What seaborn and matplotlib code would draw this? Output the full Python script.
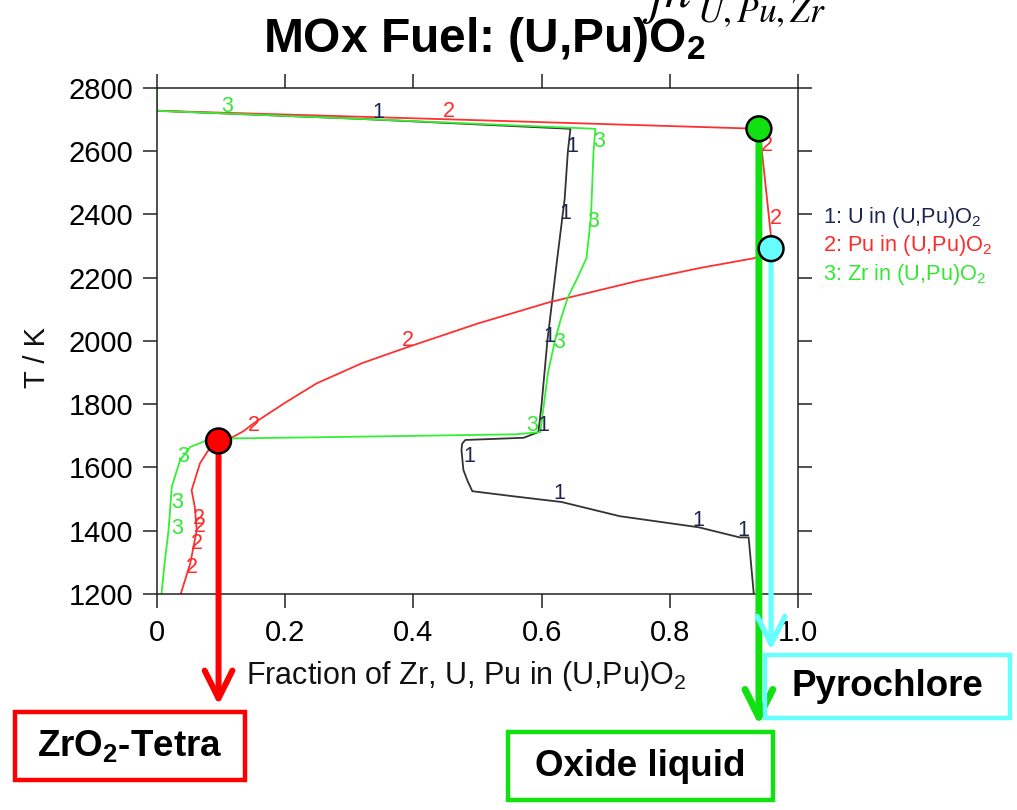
import matplotlib
matplotlib.use("Agg")
import matplotlib.pyplot as plt
from matplotlib.patches import Rectangle
import seaborn as sns
import pandas as pd

# ---------------- data ----------------
u_x = [0.000, 0.310, 0.645, 0.641, 0.636, 0.624, 0.609, 0.600, 0.595, 0.572, 0.520, 0.481,
       0.476, 0.475, 0.478, 0.485, 0.492, 0.560, 0.631, 0.722, 0.845, 0.909, 0.923, 0.930, 0.931]
u_T = [2728, 2703, 2671, 2600, 2450, 2254, 2000, 1800, 1712, 1694, 1690, 1687,
       1675, 1655, 1592, 1555, 1525, 1508, 1491, 1446, 1411, 1379, 1379, 1223, 1200]

pu_x = [0.037, 0.052, 0.062, 0.059, 0.054, 0.067, 0.085, 0.096, 0.119, 0.135, 0.151, 0.200,
        0.249, 0.320, 0.390, 0.500, 0.611, 0.750, 0.850, 0.932, 0.958, 0.958, 0.940, 0.470, 0.000]
pu_T = [1200, 1298, 1402, 1475, 1528, 1613, 1670, 1684, 1697, 1715, 1740, 1805,
        1866, 1930, 1980, 2055, 2122, 2190, 2232, 2262, 2292, 2328, 2671, 2700, 2728]

zr_x = [0.000, 0.000, 0.310, 0.684, 0.681, 0.677, 0.670, 0.656, 0.641, 0.630, 0.621, 0.610,
        0.598, 0.560, 0.300, 0.119, 0.096, 0.078, 0.052, 0.036, 0.023, 0.020, 0.018, 0.012, 0.007]
zr_T = [2800, 2728, 2703, 2671, 2600, 2391, 2262, 2200, 2138, 2070, 2002, 1900,
        1712, 1705, 1697, 1692, 1689, 1686, 1665, 1623, 1539, 1455, 1402, 1300, 1200]

series_colors = {"U": "#333333", "Pu": "#ff3030", "Zr": "#33f033"}
label_colors = {"U": "#1c2450", "Pu": "#ff2a2a", "Zr": "#33e833"}
series_tags = {"U": "1", "Pu": "2", "Zr": "3"}

# curve number labels (x, T)
u_lab_x = [0.345, 0.648, 0.637, 0.612, 0.602, 0.487, 0.628, 0.844, 0.915]
u_lab_T = [2724, 2614, 2402, 2014, 1733, 1635, 1519, 1433, 1402]
pu_lab_x = [0.455, 0.952, 0.965, 0.391, 0.151, 0.066, 0.067, 0.062, 0.054]
pu_lab_T = [2727, 2617, 2386, 2002, 1733, 1440, 1415, 1361, 1285]
zr_lab_x = [0.109, 0.690, 0.681, 0.628, 0.585, 0.041, 0.031, 0.031]
zr_lab_T = [2743, 2630, 2377, 1995, 1733, 1636, 1490, 1408]

legend_texts = ["1: U in (U,Pu)O$_2$", "2: Pu in (U,Pu)O$_2$", "3: Zr in (U,Pu)O$_2$"]

# phase points
phase_names = ["ZrO$_\\mathbf{2}$-Tetra", "Oxide liquid", "Pyrochlore"]
phase_x = [0.096, 0.939, 0.958]
phase_T = [1684, 2671, 2292]
phase_colors = ["#ff0000", "#11e011", "#66ffff"]

x_ticks = [0, 0.2, 0.4, 0.6, 0.8, 1.0]
x_ticklabels = ["0", "0.2", "0.4", "0.6", "0.8", "1.0"]
y_ticks = [1200, 1400, 1600, 1800, 2000, 2200, 2400, 2600, 2800]

# ---------------- styling ----------------
sns.set_theme(style="ticks")
plt.rcParams["font.family"] = ["Liberation Sans", "DejaVu Sans"]
plt.rcParams["mathtext.fontset"] = "custom"
plt.rcParams["mathtext.rm"] = "Liberation Sans"
plt.rcParams["mathtext.it"] = "Liberation Sans:italic"
plt.rcParams["mathtext.bf"] = "Liberation Sans:bold"

W, H = 1017, 810
fig = plt.figure(figsize=(W / 100, H / 100), dpi=100)
ax = fig.add_axes([157 / W, 1 - 594 / H, (798 - 157) / W, (594 - 88) / H])

frames = []
for name, xs, ts in [("U", u_x, u_T), ("Pu", pu_x, pu_T), ("Zr", zr_x, zr_T)]:
    frames.append(pd.DataFrame({"x": xs, "T": ts, "series": name, "order": range(len(xs))}))
df = pd.concat(frames, ignore_index=True)

sns.lineplot(data=df, x="x", y="T", hue="series", palette=series_colors, sort=False,
             estimator=None, units="series", legend=False, linewidth=1.3, ax=ax, zorder=2)

for name, lx, lt in [("U", u_lab_x, u_lab_T), ("Pu", pu_lab_x, pu_lab_T), ("Zr", zr_lab_x, zr_lab_T)]:
    for xx, tt in zip(lx, lt):
        ax.text(xx, tt, series_tags[name], color=label_colors[name], fontsize=15.5,
                ha="center", va="center", zorder=3)

ax.set_xlim(0, 1.0)
ax.set_ylim(1200, 2800)
ax.set_xticks(x_ticks)
ax.set_xticklabels(x_ticklabels)
ax.set_yticks(y_ticks)
ax.tick_params(axis="both", direction="out", length=10, width=1.1, labelsize=21,
               top=True, right=True, labeltop=False, labelright=False, color="#222222",
               labelcolor="black")
ax.tick_params(axis="x", pad=8)
ax.tick_params(axis="y", pad=7)
for sp in ax.spines.values():
    sp.set_linewidth(1.1)
    sp.set_color("#222222")
    sp.set_visible(True)

ax.set_xlabel("Fraction of Zr, U, Pu in (U,Pu)O$_2$", fontsize=22, color="#111111")
ax.set_ylabel("T / K", fontsize=21, color="#111111")
ax.xaxis.set_label_coords(0.482, -0.128)
ax.yaxis.set_label_coords(-0.166, 0.467)

# arrows from phase points down to the boxes
arrow_tips_px = [105, 85, 160]     # figure pixel height of arrow tips
arrow_lw = [4.3, 5.0, 3.8]
for xx, tt, col, tip, lw in zip(phase_x, phase_T, phase_colors, arrow_tips_px, arrow_lw):
    ax.annotate("", xy=(xx, tip), xycoords=("data", "figure pixels"),
                xytext=(xx, tt), textcoords="data",
                arrowprops=dict(arrowstyle="->,head_length=0.5,head_width=0.25",
                                color=col, lw=lw, shrinkA=0, shrinkB=0, mutation_scale=40),
                annotation_clip=False, zorder=4)

sns.scatterplot(x=phase_x, y=phase_T, hue=phase_names, palette=dict(zip(phase_names, phase_colors)),
                s=320, edgecolor="black", linewidth=1.8, legend=False, ax=ax, zorder=6, clip_on=False)

# legend-like texts
leg_cols = [label_colors["U"], label_colors["Pu"], label_colors["Zr"]]
for i, (t, c) in enumerate(zip(legend_texts, leg_cols)):
    fig.text(823 / W, 1 - (223 + 28.5 * i) / H, t, color=c, fontsize=15.7, ha="left", va="baseline")

# title
fig.text(484 / W, 1 - 52 / H, "MOx Fuel: (U,Pu)O$_\\mathbf{2}$", fontsize=34.5, fontweight="bold",
         ha="center", va="baseline", color="black")
# partially cut-off formula above the title
fig.text(640 / W, 1 - 7 / H, r"$\int n$", fontsize=38, math_fontfamily="stix",
         ha="left", va="baseline", color="black")
fig.text(697 / W, 1 - 22 / H, r"$U,Pu,Zr$", fontsize=25.5, math_fontfamily="stix",
         ha="left", va="baseline", color="black")

# phase boxes
boxes_px = [(15, 712, 245, 780), (508, 732, 773, 800), (765, 655, 1010, 718)]
for (x0, y0, x1, y1), col, name in zip(boxes_px, phase_colors, phase_names):
    fig.add_artist(Rectangle((x0 / W, 1 - y1 / H), (x1 - x0) / W, (y1 - y0) / H,
                             transform=fig.transFigure, fill=False, edgecolor=col, linewidth=3.2))
    fig.text((x0 + x1) / 2 / W, 1 - (y0 + y1) / 2 / H, name, fontsize=26.5, fontweight="bold",
             ha="center", va="center", color="black")

fig.savefig("out.png", dpi=100)
